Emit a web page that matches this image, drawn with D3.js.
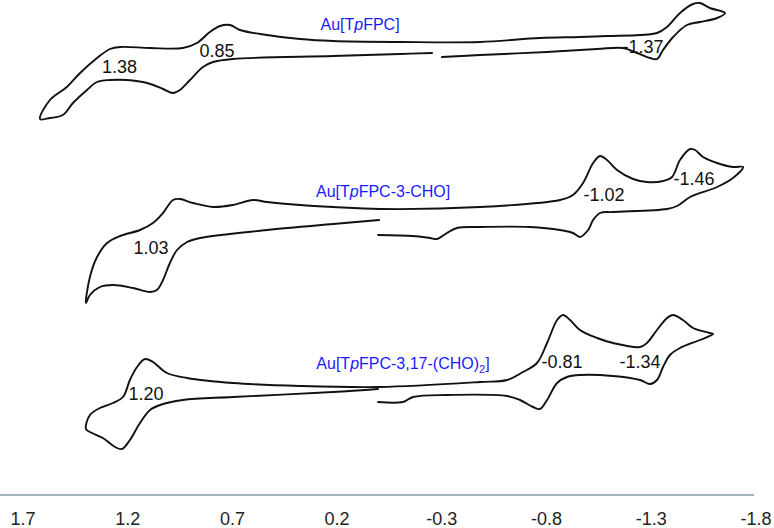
<!DOCTYPE html>
<html><head><meta charset="utf-8">
<script src="https://cdn.jsdelivr.net/npm/d3@7"></script>
<style>body{margin:0;background:#fff}svg{display:block}</style>
</head><body><svg id="c" width="774" height="528"></svg>
<script>
// Potential (V) tick labels
const tickValues = [1.7, 1.2, 0.7, 0.2, -0.3, -0.8, -1.3, -1.8];

// Curve names and vertical offsets (current units)
const curveNames = ["Au[TpFPC]", "Au[TpFPC-3-CHO]", "Au[TpFPC-3,17-(CHO)2]"];
const curveOffsets = [47.8, 31.8, 14.3];

// Each CV trace: [potential (V), current (a.u.)]; split at the start gap
const cv1 = [
  [-0.303,-0.7],[-0.485,-0.5],[-0.805,-0.2],[-1.044,0.1],[-1.168,0.2],[-1.235,-0.3],[-1.297,-0.8],[-1.330,-0.9],
  [-1.359,0.0],[-1.407,1.3],[-1.473,2.5],[-1.535,2.8],[-1.617,3.2],[-1.655,3.7],
  [-1.583,4.2],[-1.535,4.7],[-1.502,4.6],[-1.440,3.7],[-1.378,2.3],[-1.330,1.7],[-1.249,1.5],[-1.091,1.4],
  [-0.962,1.3],[-0.771,1.2],[-0.485,0.8],[-0.103,0.8],[0.217,0.9],[0.375,1.1],[0.566,1.6],[0.661,2.0],
  [0.709,2.5],[0.757,2.4],[0.805,1.8],[0.867,0.7],[0.934,0.2],[1.091,0.2],[1.234,0.3],[1.282,0.1],
  [1.344,-0.8],[1.425,-2.3],[1.488,-3.7],[1.569,-5.0],[1.616,-6.9],
  [1.569,-6.8],[1.507,-6.5],[1.459,-5.3],[1.392,-4.0],[1.344,-3.2],[1.282,-3.0],[1.201,-3.0],[1.105,-3.3],
  [1.029,-3.9],[0.981,-4.3],[0.948,-4.0],[0.900,-3.0],[0.838,-1.7],[0.790,-1.2],[0.695,-0.9],[0.217,-0.6],
  [-0.103,-0.4],[-0.256,-0.3]
];
const cv2 = [
  [0.002,-2.5],[-0.165,-2.6],[-0.246,-2.8],[-0.280,-2.9],[-0.327,-2.3],[-0.375,-1.8],[-0.485,-1.7],[-0.724,-1.7],
  [-0.867,-2.0],[-0.929,-2.3],[-0.962,-2.7],[-1.001,-2.0],[-1.025,-1.0],[-1.058,-0.3],[-1.120,-0.2],[-1.378,0.1],
  [-1.426,0.4],[-1.488,1.3],[-1.617,2.3],[-1.693,3.2],[-1.741,4.3],
  [-1.693,4.3],[-1.617,4.7],[-1.550,5.3],[-1.512,6.0],[-1.488,6.1],[-1.440,5.0],[-1.402,3.3],[-1.359,2.9],
  [-1.282,2.8],[-1.216,3.1],[-1.139,4.0],[-1.091,5.0],[-1.058,5.4],[-1.025,4.7],[-0.977,2.7],[-0.929,1.5],
  [-0.867,1.0],[-0.485,0.3],[-0.007,0.1],[0.217,0.3],[0.375,0.5],[0.532,0.8],[0.599,1.0],[0.695,0.5],
  [0.790,0.3],[0.886,0.7],[0.948,1.1],[0.981,1.0],[1.029,-0.3],[1.077,-1.3],[1.139,-2.0],[1.234,-2.6],
  [1.296,-3.3],[1.344,-4.7],[1.378,-6.7],[1.397,-9.3],
  [1.378,-8.5],[1.330,-7.7],[1.268,-7.5],[1.172,-7.8],[1.091,-8.2],[1.058,-8.0],[1.029,-7.0],[0.996,-5.3],
  [0.962,-4.0],[0.914,-3.2],[0.852,-2.8],[0.532,-2.0],[0.217,-1.4],[-0.003,-1.0]
];
const cv3 = [
  [0.002,-1.7],[-0.117,-1.7],[-0.165,-1.2],[-0.327,-1.0],[-0.614,-1.1],[-0.676,-1.5],[-0.738,-2.2],[-0.771,-2.4],
  [-0.805,-1.5],[-0.853,0.2],[-0.900,0.8],[-0.962,1.0],[-1.120,0.9],[-1.249,0.5],[-1.297,0.1],[-1.330,0.5],
  [-1.359,1.8],[-1.392,3.0],[-1.440,3.7],[-1.535,4.5],[-1.598,5.1],
  [-1.583,5.2],[-1.502,5.7],[-1.454,6.5],[-1.407,7.0],[-1.378,6.7],[-1.330,5.5],[-1.282,4.2],[-1.249,3.8],
  [-1.120,4.2],[-1.044,4.7],[-0.962,5.5],[-0.915,6.5],[-0.881,7.0],[-0.853,6.5],[-0.805,4.2],[-0.757,2.2],
  [-0.690,1.3],[-0.614,0.5],[-0.485,0.3],[-0.007,-0.2],[0.375,-0.1],[0.695,0.2],[0.914,0.7],[1.010,1.2],
  [1.077,2.3],[1.115,2.6],[1.153,1.8],[1.187,0.5],[1.220,-1.2],[1.268,-1.8],[1.330,-2.3],[1.378,-3.0],[1.397,-4.4],
  [1.378,-4.7],[1.316,-5.3],[1.258,-6.2],[1.225,-6.4],[1.187,-5.5],[1.139,-3.8],[1.091,-2.5],[1.043,-2.0],
  [0.934,-1.5],[0.695,-1.2],[0.217,-0.7],[0.002,-0.4]
];
const curves = [cv1, cv2, cv3];

// Peak potential labels: [curve index, text, E, current]
const peakLabels = [
  [0, "1.38", 1.237, -2.3], [0, "0.85", 0.771, -0.7], [0, "-1.37", -1.263, -0.3],
  [1, "1.03", 1.086, -4.4], [1, "-1.02", -1.077, 0.9], [1, "-1.46", -1.507, 2.5],
  [2, "1.20", 1.110, -1.5], [2, "-0.81", -0.876, 1.7], [2, "-1.34", -1.249, 1.7]
];
// Title anchor per curve: [E, current]
const titleAnchors = [[0.088, 2.0], [-0.022, 1.3], [-0.117, 1.6]];

const svg = d3.select("#c");
const x = d3.scaleLinear().domain([1.7, -1.8]).range([22.5, 755.4]);
const y = d3.scaleLinear().domain([0, 52.8]).range([528, 0]);

const line = d3.line()
  .x(d => x(d[0]))
  .y((d) => d.y)
  .curve(d3.curveCatmullRom.alpha(0.5));

curves.forEach((c, k) => {
  const pts = c.map(d => { const p = [d[0], d[1]]; p.y = y(d[1] + curveOffsets[k]); return p; });
  svg.append("path").attr("d", line(pts))
    .attr("fill", "none").attr("stroke", "#111").attr("stroke-width", 1.9)
    .attr("stroke-linejoin", "round").attr("stroke-linecap", "round");
});

peakLabels.forEach(([k, t, e, i]) => {
  svg.append("text").attr("x", x(e)).attr("y", y(i + curveOffsets[k]))
    .attr("text-anchor", "middle").attr("font-family", "Liberation Sans, Arial, sans-serif")
    .attr("font-size", 18).attr("fill", "#111").text(t);
});

titleAnchors.forEach(([e, i], k) => {
  const t = svg.append("text").attr("x", x(e)).attr("y", y(i + curveOffsets[k]))
    .attr("text-anchor", "middle").attr("font-family", "Liberation Sans, Arial, sans-serif")
    .attr("font-size", 16).attr("fill", "#1a1aff");
  const name = curveNames[k];
  const m = name.match(/^(Au\[T)(p)(.*?)(2?)(\])$/);
  t.append("tspan").text(m[1]);
  t.append("tspan").attr("font-style", "italic").text(m[2]);
  if (m[4]) {
    t.append("tspan").text(m[3]);
    t.append("tspan").attr("font-size", 11).attr("dy", 4).text(m[4]);
    t.append("tspan").attr("dy", -4).text(m[5]);
  } else {
    t.append("tspan").text(m[3] + m[5]);
  }
});

// Axis
const axis = d3.axisBottom(x).tickValues(tickValues).tickSize(0).tickPadding(0)
  .tickFormat(d => d3.format(".1f")(d).replace("−", "-"));
const g = svg.append("g").attr("transform", "translate(0,495)").call(axis);
g.select(".domain").remove();
g.append("line").attr("x1", 0).attr("x2", 754).attr("y1", 0).attr("y2", 0)
  .attr("stroke", "#7d9fa6").attr("stroke-width", 1.3);
g.selectAll(".tick text").attr("y", 30).attr("dy", null)
  .attr("font-family", "Liberation Sans, Arial, sans-serif").attr("font-size", 18).attr("fill", "#222");
</script></body></html>
